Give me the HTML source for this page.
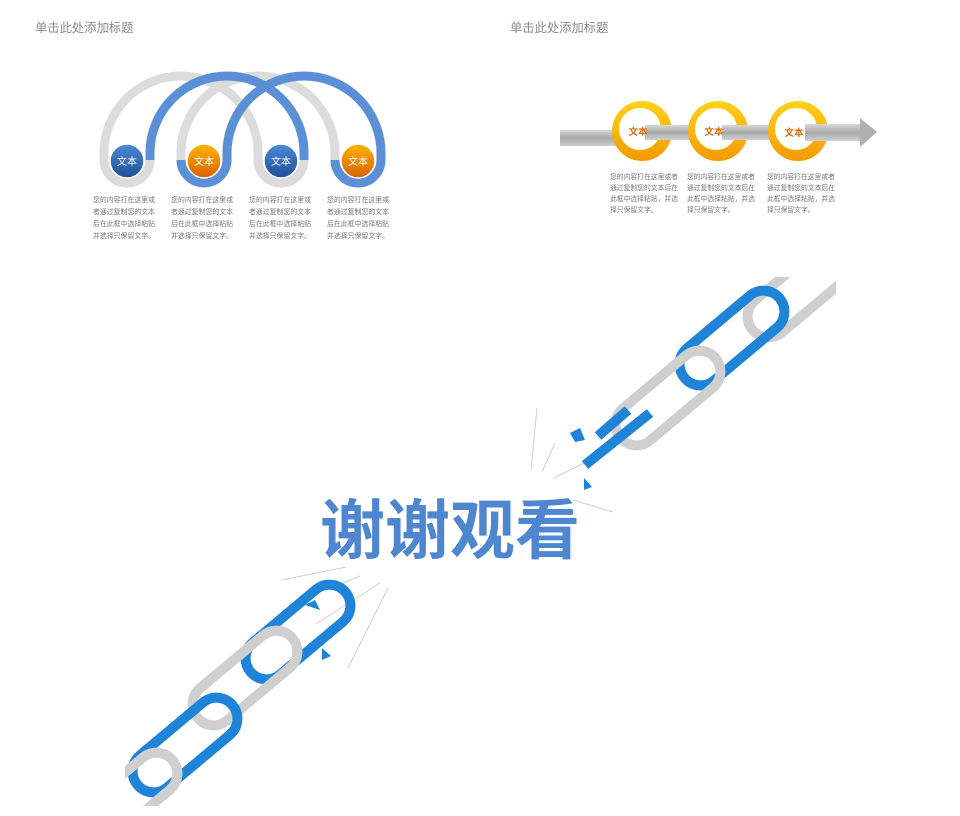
<!DOCTYPE html>
<html><head><meta charset="utf-8"><style>
html,body{margin:0;padding:0;background:#fff;}
body{width:960px;height:816px;position:relative;overflow:hidden;font-family:"Liberation Sans","Noto Sans CJK SC",sans-serif;}
.t{position:absolute;font-size:12.3px;color:#8a8a8a;}
.p{position:absolute;font-size:6.9px;line-height:12px;color:#777;width:64px;}
.q{position:absolute;font-size:6.8px;line-height:11px;color:#777;width:70px;}
.big{position:absolute;left:320px;top:478px;font-size:65px;font-weight:bold;color:#4f86d0;white-space:nowrap;}
</style></head><body>
<div class="t" style="left:35px;top:18px">单击此处添加标题</div>
<div class="t" style="left:510px;top:18px">单击此处添加标题</div>

<svg width="960" height="816" style="position:absolute;left:0;top:0">
<defs>
<linearGradient id="bc" x1="0" y1="0" x2="0" y2="1"><stop offset="0" stop-color="#4d8ad6"/><stop offset="1" stop-color="#1f4f98"/></linearGradient>
<linearGradient id="oc" x1="0" y1="0" x2="0" y2="1"><stop offset="0" stop-color="#ffb400"/><stop offset="1" stop-color="#d86200"/></linearGradient>
<linearGradient id="yr" x1="0" y1="0" x2="0" y2="1"><stop offset="0" stop-color="#ffd21a"/><stop offset="1" stop-color="#f39a00"/></linearGradient>
<linearGradient id="bar" x1="0" y1="0" x2="0" y2="1"><stop offset="0" stop-color="#d8d8d8"/><stop offset="0.5" stop-color="#a8a8a8"/><stop offset="1" stop-color="#d0d0d0"/></linearGradient>
<clipPath id="cu"><rect x="520" y="277" width="316" height="260"/></clipPath>
<clipPath id="cl"><rect x="125" y="560" width="300" height="246"/></clipPath>
</defs>
<g fill="none" stroke-width="9">
<path d="M104 160 V153 A77 77 0 0 1 258 153 V160" stroke="#dcdcdc"/>
<path d="M181 160 V153 A77 77 0 0 1 335 153 V160" stroke="#dcdcdc"/>
<path d="M104 160 A23 23 0 0 0 150 160" stroke="#dcdcdc"/>
<path d="M258 160 A23 23 0 0 0 304 160" stroke="#dcdcdc"/>
<path d="M150 160 V153 A77 77 0 0 1 304 153 V160" stroke="#5b8fd6"/>
<path d="M227 160 V153 A77 77 0 0 1 381 153 V160" stroke="#5b8fd6"/>
<path d="M181 160 A23 23 0 0 0 227 160" stroke="#5b8fd6"/>
<path d="M335 160 A23 23 0 0 0 381 160" stroke="#5b8fd6"/>
</g>
<circle cx="127" cy="161" r="17" fill="url(#bc)" stroke="#fff" stroke-width="1.5"/>
<circle cx="204" cy="161" r="17" fill="url(#oc)" stroke="#fff" stroke-width="1.5"/>
<circle cx="281" cy="161" r="17" fill="url(#bc)" stroke="#fff" stroke-width="1.5"/>
<circle cx="358" cy="161" r="17" fill="url(#oc)" stroke="#fff" stroke-width="1.5"/>
<g font-size="10" fill="#fff" text-anchor="middle">
<text x="127" y="165">文本</text><text x="204" y="165">文本</text><text x="281" y="165">文本</text><text x="358" y="165">文本</text>
</g>
<rect x="560" y="130" width="82" height="16" fill="url(#bar)"/>
<circle cx="642" cy="131" r="30" fill="url(#yr)"/><circle cx="640" cy="129" r="21" fill="#fff"/>
<rect x="645" y="125" width="73" height="15" fill="url(#bar)"/>
<circle cx="718" cy="131" r="30" fill="url(#yr)"/><circle cx="716" cy="129" r="21" fill="#fff"/>
<rect x="722" y="125" width="76" height="15" fill="url(#bar)"/>
<circle cx="798" cy="131" r="30" fill="url(#yr)"/><circle cx="796" cy="129" r="21" fill="#fff"/>
<rect x="805" y="124" width="57" height="17" fill="url(#bar)"/>
<polygon points="860,118 877,132 860,147" fill="#b0b0b0"/>
<g font-size="9.5" fill="#d86a10" font-weight="bold" text-anchor="middle">
<text x="638" y="135">文本</text><text x="714" y="135">文本</text><text x="794" y="136">文本</text>
</g>
<g stroke="#d0d0d0" stroke-width="1">
<line x1="537" y1="408" x2="531" y2="470"/><line x1="555" y1="443" x2="542" y2="472"/>
<line x1="584" y1="463" x2="554" y2="478"/><line x1="573" y1="500" x2="613" y2="512"/>
<line x1="282" y1="580" x2="346" y2="567"/><line x1="327" y1="590" x2="360" y2="576"/>
<line x1="316" y1="624" x2="380" y2="583"/><line x1="348" y1="668" x2="388" y2="588"/>
</g>
<g fill="none" stroke-width="10" clip-path="url(#cu)">
<rect x="-62" y="-21" width="124" height="42" rx="21" stroke="#cfcfcf" transform="translate(800,290) rotate(-40)"/>
<rect x="-62" y="-21" width="124" height="42" rx="21" stroke="#1f84d8" transform="translate(732,338) rotate(-40)"/>
<rect x="-62" y="-21" width="124" height="42" rx="21" stroke="#cfcfcf" transform="translate(668,398) rotate(-40)"/>
<path d="M585 465 L650 413" stroke="#1f84d8"/>
<path d="M598 436 L628 410" stroke="#1f84d8"/>
</g>
<polygon points="570,433 580,428 585,440 575,442" fill="#1f84d8"/>
<polygon points="584,478 592,487 584,490" fill="#1f84d8"/>
<g fill="none" stroke-width="10" clip-path="url(#cl)">
<rect x="-62" y="-21" width="124" height="42" rx="21" stroke="#1f84d8" transform="translate(298,632) rotate(-40)"/>
<rect x="-62" y="-21" width="124" height="42" rx="21" stroke="#cfcfcf" transform="translate(245,678) rotate(-40)"/>
<rect x="-62" y="-21" width="124" height="42" rx="21" stroke="#1f84d8" transform="translate(185,745) rotate(-40)"/>
<rect x="-62" y="-21" width="124" height="42" rx="21" stroke="#cfcfcf" transform="translate(125,800) rotate(-40)"/>
</g>
<polygon points="305,605 315,600 320,610" fill="#1f84d8"/>
<polygon points="322,648 331,656 322,660" fill="#1f84d8"/>
</svg>

<div class="p" style="left:93px;top:195px">您的内容打在这里或者通过复制您的文本后在此框中选择粘贴并选择只保留文字。</div>
<div class="p" style="left:171px;top:195px">您的内容打在这里或者通过复制您的文本后在此框中选择粘贴并选择只保留文字。</div>
<div class="p" style="left:249px;top:195px">您的内容打在这里或者通过复制您的文本后在此框中选择粘贴并选择只保留文字。</div>
<div class="p" style="left:327px;top:195px">您的内容打在这里或者通过复制您的文本后在此框中选择粘贴并选择只保留文字。</div>
<div class="q" style="left:610px;top:172px">您的内容打在这里或者通过复制您的文本后在此框中选择粘贴，并选择只保留文字。</div>
<div class="q" style="left:687px;top:172px">您的内容打在这里或者通过复制您的文本后在此框中选择粘贴，并选择只保留文字。</div>
<div class="q" style="left:767px;top:172px">您的内容打在这里或者通过复制您的文本后在此框中选择粘贴，并选择只保留文字。</div>
<div class="big">谢谢观看</div>
</body></html>
